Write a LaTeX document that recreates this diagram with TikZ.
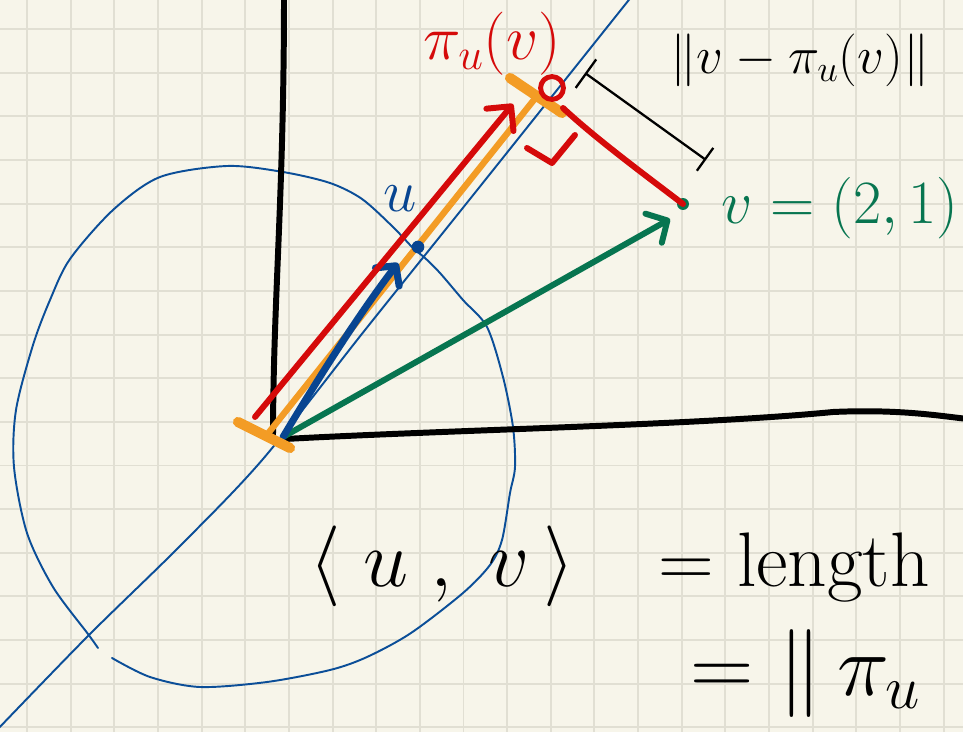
\RequirePackage{fix-cm}
\documentclass[tikz,border=0pt]{standalone}
\usepackage{amsmath}
\usepackage{xcolor}
\usepackage{tikz}
\usetikzlibrary{positioning,arrows.meta,calc}
\definecolor{paper}{HTML}{F7F5EA}
\definecolor{gridline}{HTML}{E1DFD3}
\definecolor{penblue}{HTML}{0B4E98}
\definecolor{inkblue}{HTML}{084591}
\definecolor{penred}{HTML}{D50A0A}
\definecolor{penorange}{HTML}{F39C25}
\definecolor{pengreen}{HTML}{077550}

\begin{document}
\begin{tikzpicture}[x=0.02cm, y=-0.02cm, line cap=round, line join=round,
    gridln/.style={gridline, line width=1.1pt},
    axis/.style={black, line width=3.4pt},
    spanline/.style={penblue, line width=1.1pt},
    uvec/.style={inkblue, line width=4pt, -{Straight Barb[length=8pt, width=17pt, round]}},
    vvec/.style={pengreen, line width=3.4pt, -{Straight Barb[length=9pt, width=19pt, round]}},
    projvec/.style={penred, line width=3.4pt, -{Straight Barb[length=10pt, width=20pt, round]}},
    projseg/.style={penorange, line width=3.6pt},
    projbar/.style={penorange, line width=5.8pt},
    dimline/.style={black, line width=1.3pt, {Bar[width=20pt]}-{Bar[width=16pt]}}]
  \useasboundingbox (0,0) rectangle (963,732);
  \fill[paper] (0,0) rectangle (963,732);
  \clip (0,0) rectangle (963,732);
  % squared paper
  \foreach \gx in {0,...,21}
    \draw[gridln] ({27+43.65*\gx},0) -- ({27+43.65*\gx},732);
  \foreach \gy in {0,...,16}
    \draw[gridln] (0,{29+43.65*\gy}) -- (963,{29+43.65*\gy});

  % points
  \coordinate (O) at (283,437);
  \coordinate (utip) at (398,263);
  \coordinate (rs) at (255,417);
  \coordinate (rtip) at (513,104);
  \coordinate (ob) at (266,436);
  \coordinate (ot) at (537,96);
  \coordinate (pr) at (563,108);
  \coordinate (vpt) at (683,204);
  \coordinate (gtip) at (670,219);
  \coordinate (dimA) at (585,73);
  \coordinate (dimB) at (706,160);

  % unit circle and span of u
  \draw[spanline] plot[smooth] coordinates {(98,648) (88,634) (53,587) (27,533)
    (14,467) (16,410) (33,345) (50,300) (70,259) (113,210) (160,177) (227,166)
    (283,172) (330,183) (362,199) (393,227) (413,248) (425,258) (440,273)
    (463,300) (487,327) (503,377) (513,427) (515,467) (510,493) (502,540)
    (490,565) (463,593) (411,633) (367,657) (330,670) (267,682) (200,687)
    (150,677) (112,658)};
  \draw[spanline] plot[smooth] coordinates {(-4,731) (88,636) (180,546)
    (263,459) (365,330) (470,199) (632,-4)};

  % axes
  \draw[axis] (284,-5) .. controls (284,200) and (273,300) .. (273,440);
  \draw[axis] (285,439) .. controls (450,430) and (700,425) .. (833,412)
    .. controls (900,409) and (940,416) .. (968,419);

  % v
  \draw[vvec] (O) -- (gtip);
  \fill[pengreen] (vpt) circle (3.4pt);

  % u
  \draw[projseg] (ob) -- (ot);
  \draw[uvec] (O) .. controls (322,372) and (362,310) .. (utip);
  \fill[inkblue] (418,247) circle (3.6pt);

  % projection
  \draw[projbar] (238,422) -- (290,448);
  \draw[projbar] (510,78) -- (562,113);
  \draw[projvec] (rs) -- (rtip);
  \draw[penred, line width=2.8pt] (552,88) circle (6.5pt);
  \draw[penred, line width=3.4pt] (pr) .. controls (595,138) and (645,175) .. (vpt);
  \draw[penred, line width=3.4pt] (527,148) -- (552,163) -- (575,135);
  \draw[dimline] (dimA) -- (dimB);

  % labels
  \node[text=penred, font=\fontsize{36}{36}\selectfont] (plab) at (492,44) {$\pi_u(v)$};
  \node[font=\fontsize{30}{30}\selectfont] (dlab) at (800,60) {$\|v-\pi_u(v)\|$};
  \node[text=pengreen, font=\fontsize{35}{35}\selectfont] (vlab) at (840,208) {$v=(2,1)$};
  \node[text=inkblue, font=\fontsize{34}{34}\selectfont] (ulab) at (400,199) {$u$};
  \node[anchor=base, font=\fontsize{46}{46}\selectfont] (ip) at (442,586)
    {$\langle\;u\;,\;v\,\rangle$};
  \node[anchor=base, font=\fontsize{44}{44}\selectfont] (eql) at (794,586) {$=$ length};
  \node[anchor=base, font=\fontsize{50}{50}\selectfont] (eqp) at (806,695) {$=\|\,\pi_u$};
\end{tikzpicture}
\end{document}
